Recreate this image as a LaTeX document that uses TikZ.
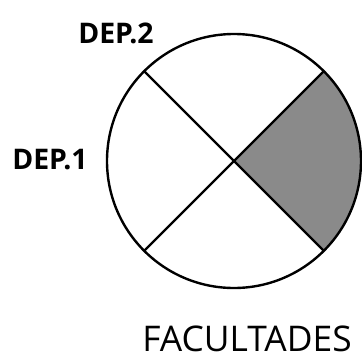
\documentclass[tikz,border=0pt]{standalone}
\usepackage{fontspec}
\setmainfont{Open Sans}
\definecolor{sectorgray}{RGB}{138,138,138}
\begin{document}
\begin{tikzpicture}[x=1bp,y=-1bp,
  rim/.style={line width=2.4bp,draw=black},
  lbl/.style={font=\bfseries\fontsize{28.5}{32}\selectfont,inner sep=0pt,anchor=center},
  captext/.style={font=\fontsize{35.5}{40}\selectfont,inner sep=0pt,anchor=center}]
\useasboundingbox (0,0) rectangle (362,360);
\coordinate (c) at (234,161);
\def\R{127}
\fill[sectorgray] (c) -- ++(-45:\R) arc[start angle=-45,end angle=45,radius=\R] -- cycle;
\draw[rim] (c) circle[radius=\R];
\path (c) ++(45:\R) coordinate (ne) (c) ++(135:\R) coordinate (nw)
      (c) ++(225:\R) coordinate (sw) (c) ++(315:\R) coordinate (se);
\draw[rim] (nw) -- (se);
\draw[rim] (ne) -- (sw);
\node[lbl] (d2) at (116,33) {DEP.2};
\node[lbl] (d1) at (50,160) {DEP.1};
\node[captext] (fac) at (247,339) {FACULTADES};
\end{tikzpicture}
\end{document}
